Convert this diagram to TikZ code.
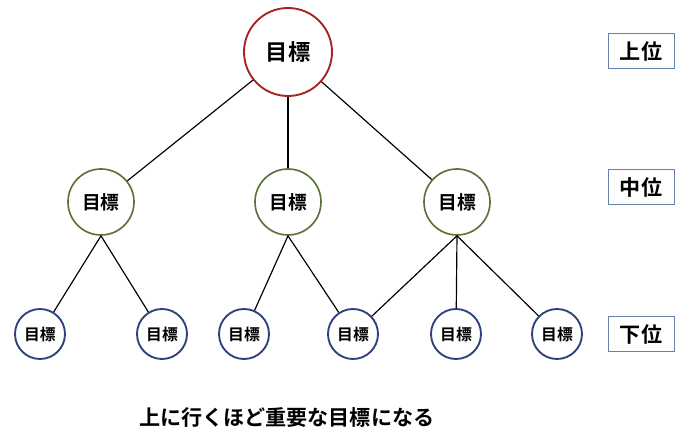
\documentclass[tikz,border=0pt]{standalone}
\usepackage{fontspec}
\usepackage{xcolor}
\usepackage{tikz}
\newfontfamily\jp{Noto Sans CJK JP}[BoldFont={Noto Sans CJK JP Bold}]

\definecolor{topred}{RGB}{165,35,35}
\definecolor{midgreen}{RGB}{90,115,55}
\definecolor{lowblue}{RGB}{45,65,125}
\definecolor{boxblue}{RGB}{100,130,170}

\tikzset{
    topgoal/.style={circle, draw=topred, line width=1.6pt, minimum size=2.64cm, inner sep=0pt, font=\jp\bfseries\fontsize{19}{19}\selectfont},
    midgoal/.style={circle, draw=midgreen, line width=1.4pt, minimum size=1.98cm, inner sep=0pt, font=\jp\bfseries\fontsize{16}{16}\selectfont},
    lowgoal/.style={circle, draw=lowblue, line width=1.6pt, minimum size=1.5cm, inner sep=0pt, font=\jp\bfseries\fontsize{13.5}{13.5}\selectfont},
    levelbox/.style={draw=boxblue, line width=0.8pt, minimum width=1.98cm, minimum height=1.05cm, inner sep=0pt, font=\jp\bfseries\fontsize{18}{18}\selectfont},
    link/.style={line width=1pt}
}

\begin{document}
\begin{tikzpicture}
        \useasboundingbox (0,0) rectangle (21,13.08);

        % Define the nodes
        \node[topgoal] (top) at (8.64, 11.52) {目標};

        \node[midgoal] (m1) at (3.03, 7.02) {目標};
        \node[midgoal] (m2) at (8.64, 7.02) {目標};
        \node[midgoal] (m3) at (13.71, 7.02) {目標};

        \node[lowgoal] (b1) at (1.2, 3.06) {目標};
        \node[lowgoal] (b2) at (4.86, 3.06) {目標};
        \node[lowgoal] (b3) at (7.32, 3.06) {目標};
        \node[lowgoal] (b4) at (10.59, 3.06) {目標};
        \node[lowgoal] (b5) at (13.68, 3.06) {目標};
        \node[lowgoal] (b6) at (16.71, 3.06) {目標};

        % Level labels
        \node[levelbox] (upper) at (19.23, 11.55) {上位};
        \node[levelbox] (middle) at (19.23, 7.47) {中位};
        \node[levelbox] (lower) at (19.23, 3.06) {下位};

        \node[font=\jp\bfseries\fontsize{18}{18}\selectfont] (note) at (8.6, 0.54) {上に行くほど重要な目標になる};

        % Draw the links
        \draw[link] (top) -- (m1);
        \draw[link] (top) -- (m2);
        \draw[link] (top) -- (m3);

        \draw[link] (m1.south) -- (b1);
        \draw[link] (m1.south) -- (b2);
        \draw[link] (m2.south) -- (b3);
        \draw[link] (m2.south) -- (b4);
        \draw[link] (m3.south) -- (b4);
        \draw[link] (m3.south) -- (b5);
        \draw[link] (m3.south) -- (b6);
    \end{tikzpicture}
\end{document}
